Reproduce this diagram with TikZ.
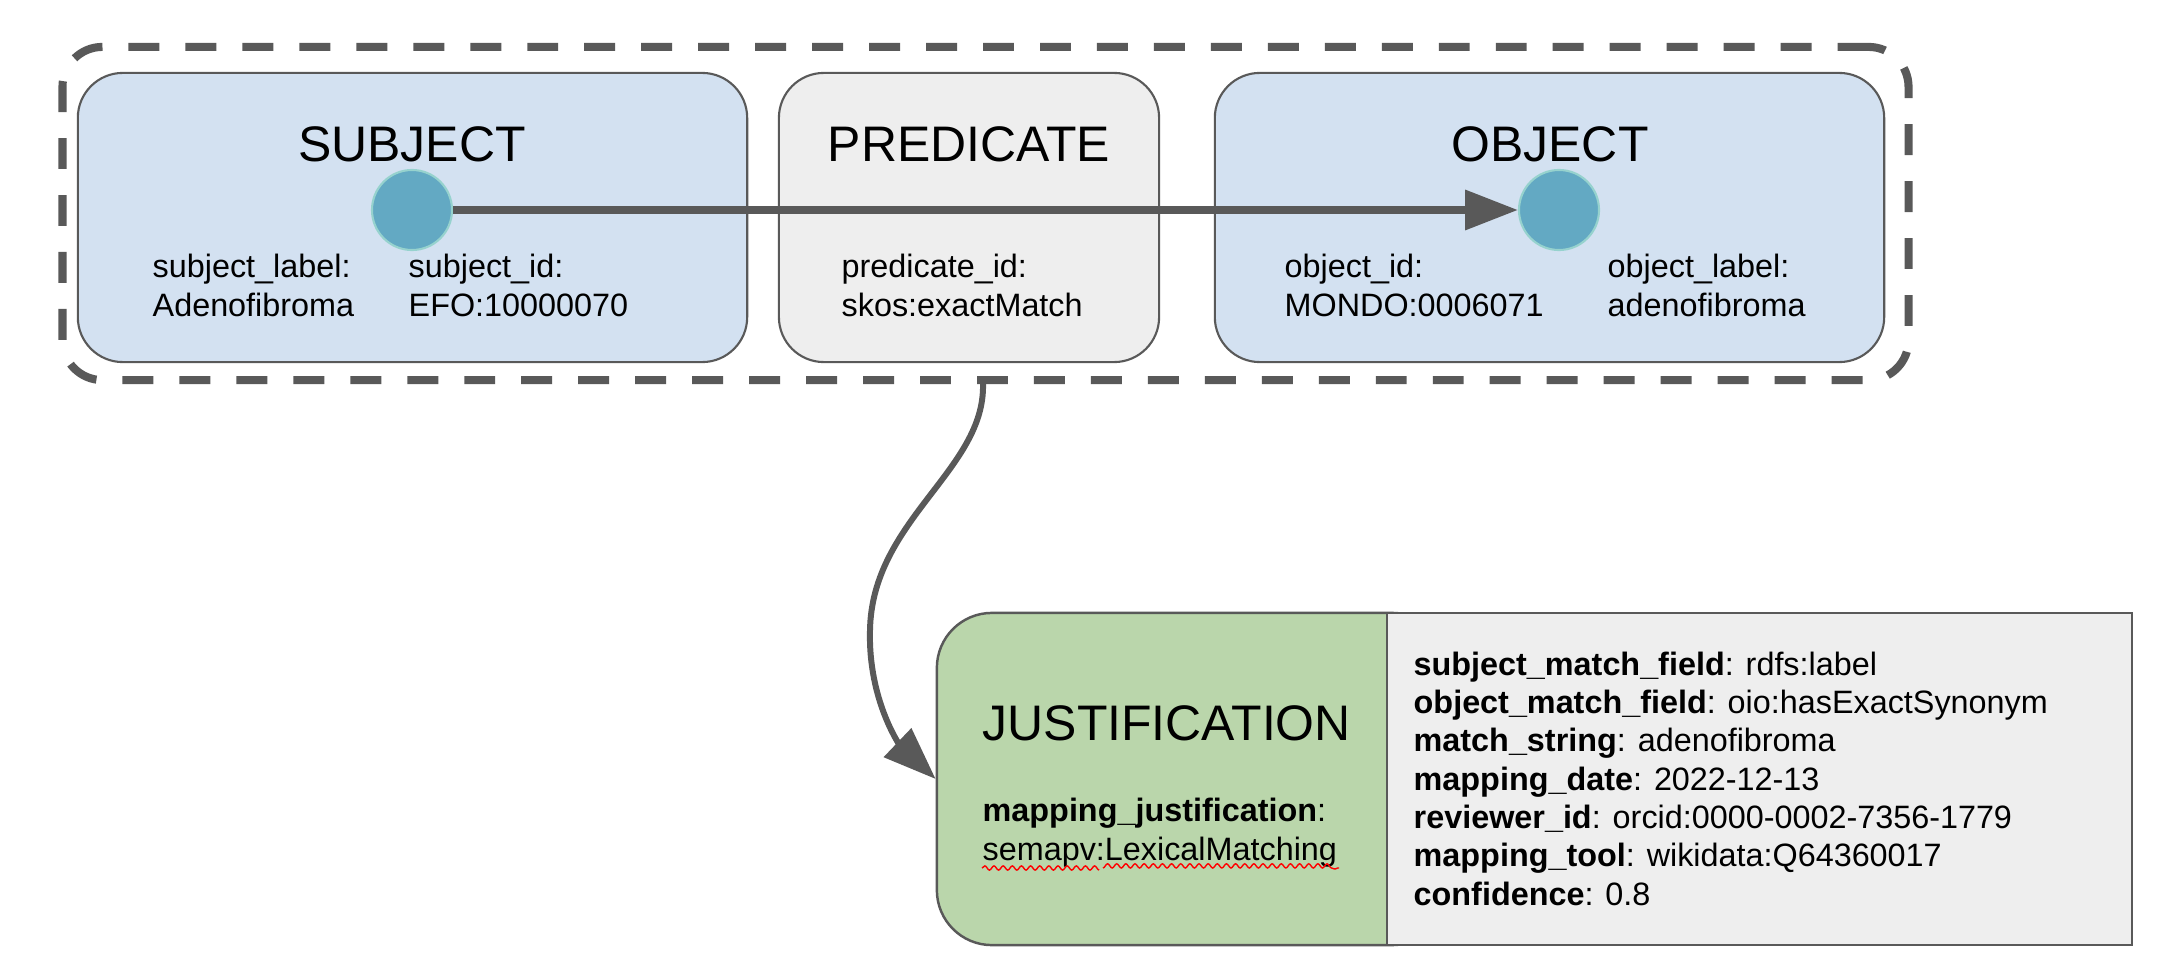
\documentclass[tikz,border=0pt]{standalone}
\usepackage{fontspec}
\setmainfont{Liberation Sans}
\usetikzlibrary{positioning, arrows.meta, decorations.pathmorphing, calc}

\definecolor{boxblue}{HTML}{D3E1F1}
\definecolor{boxgrey}{HTML}{EEEEEE}
\definecolor{boxgreen}{HTML}{BAD6AB}
\definecolor{linegrey}{HTML}{595959}
\definecolor{dotfill}{HTML}{63A9C3}
\definecolor{dotline}{HTML}{96D2CE}

\begin{document}
\begin{tikzpicture}[
  x=0.01cm, y=-0.01cm,
  termbox/.style={draw=linegrey, line width=0.6pt, rounded corners=0.45cm, fill=#1,
    minimum height=2.89cm},
  title/.style={font=\fontsize{14.2}{17}\selectfont, anchor=base, inner sep=0pt},
  field/.style={font=\fontsize{9.2}{10.9}\selectfont, align=left, anchor=base west, inner sep=0pt},
  dot/.style={circle, fill=dotfill, draw=dotline, line width=0.6pt, minimum size=0.8cm, inner sep=0pt},
  >={Triangle[length=15pt, width=11pt]}
]
\useasboundingbox (0,0) rectangle (2176,976);

% The mapping triple
\node[draw=linegrey, line width=2.3pt, dash pattern=on 8.8pt off 7.4pt, rounded corners=0.4cm,
  minimum width=18.45cm, minimum height=3.33cm] (triple) at (985.5,213.5) {};

\node[termbox=boxblue, minimum width=6.69cm] (subj) at (412.5,217.5) {};
\node[title] at (412,162) {SUBJECT};
\node[field] at (152,316) {subject\_label:\\Adenofibroma};
\node[field] at (408,316) {subject\_id:\\EFO:10000070};

\node[termbox=boxgrey, minimum width=3.8cm] (pred) at (969,217.5) {};
\node[title] at (969,162) {PREDICATE};
\node[field] at (841,316) {predicate\_id:\\skos:exactMatch};

\node[termbox=boxblue, minimum width=6.69cm] (obj) at (1549.5,217.5) {};
\node[title] at (1550,162) {OBJECT};
\node[field] at (1284,316) {object\_id:\\MONDO:0006071};
\node[field] at (1607,316) {object\_label:\\adenofibroma};

% Subject and object points
\node[dot] (sdot) at (412,210) {};
\node[dot] (odot) at (1559,210) {};
\draw[->, linegrey, line width=2.1pt] (sdot) -- (odot);

% Justification
\node[draw=linegrey, line width=0.7pt, fill=boxgreen, rounded corners=0.55cm,
  minimum width=5.1cm, minimum height=3.32cm] (just) at (1192,779) {};
\node[draw=linegrey, line width=0.7pt, fill=boxgrey,
  minimum width=7.45cm, minimum height=3.32cm] (detail) at (1759.5,779) {};
\node[title, anchor=base west] at (982,740) {JUSTIFICATION};
\node[field] at (982,860) {\textbf{mapping\_justification}:\\semapv:LexicalMatching};
\draw[red, line width=0.4pt, decorate, decoration={snake, amplitude=0.6pt, segment length=2.6pt}]
  (982,868) -- (1096,868) (1103,868) -- (1339,868);

\node[field] at (1413,905) {\textbf{subject\_match\_field}: rdfs:label\\
  \textbf{object\_match\_field}: oio:hasExactSynonym\\
  \textbf{match\_string}: adenofibroma\\
  \textbf{mapping\_date}: 2022-12-13\\
  \textbf{reviewer\_id}: orcid:0000-0002-7356-1779\\
  \textbf{mapping\_tool}: wikidata:Q64360017\\
  \textbf{confidence}: 0.8};

% From the predicate down to the justification
\draw[->, linegrey, line width=1.7pt] ($(pred.south |- triple.south)+(14,0)$)
  .. controls (985,470) and (872,520) .. (870,630)
  .. controls (868,700) and (900,745) .. (just.west);

\end{tikzpicture}
\end{document}
